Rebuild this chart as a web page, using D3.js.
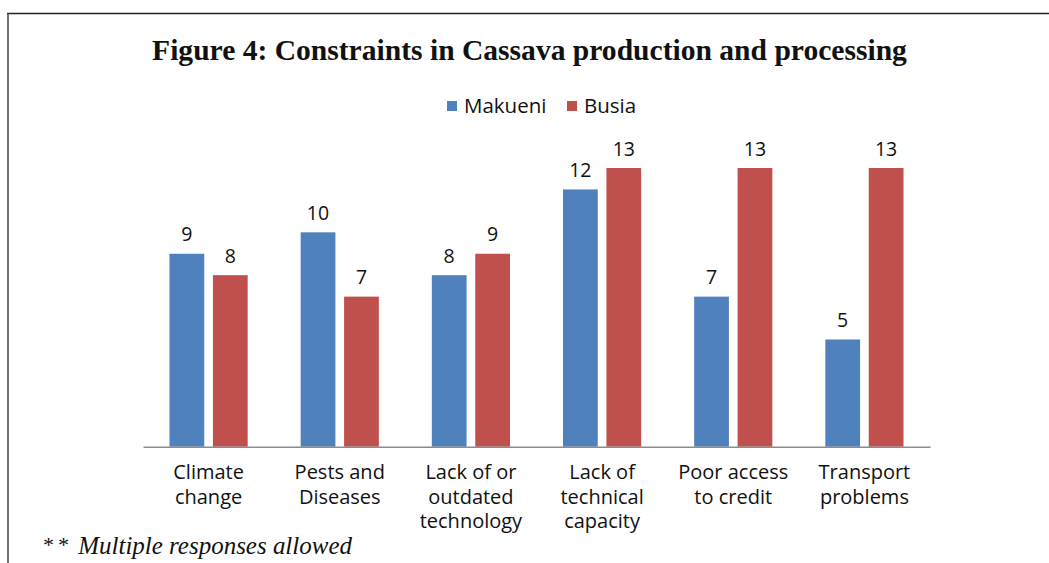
<!DOCTYPE html>
<html>
<head>
<meta charset="utf-8">
<script src="https://cdn.jsdelivr.net/npm/d3@7"></script>
<style>
  html, body { margin: 0; padding: 0; background: #fff; }
  svg { display: block; }
</style>
</head>
<body>
<svg id="chart" width="1049" height="563"></svg>
<script>
const categories = [
  ["Climate", "change"],
  ["Pests and", "Diseases"],
  ["Lack of or", "outdated", "technology"],
  ["Lack of", "technical", "capacity"],
  ["Poor access", "to credit"],
  ["Transport", "problems"]
];
const seriesNames = ["Makueni", "Busia"];
const makueni = [9, 10, 8, 12, 7, 5];
const busia = [8, 7, 9, 13, 13, 13];
const seriesColors = ["#4F81BD", "#C0504D"];
const titleText = "Figure 4: Constraints in Cassava production and processing";
const footnoteStars = "**";
const footnoteText = " Multiple responses allowed";

const svg = d3.select("#chart");
const W = 1049, H = 563;

// frame (top and left rules)
svg.append("line").attr("x1", 7).attr("x2", W).attr("y1", 13.5).attr("y2", 13.5)
  .attr("stroke", "#222").attr("stroke-width", 1.5);
svg.append("line").attr("x1", 8).attr("x2", 8).attr("y1", 13).attr("y2", H)
  .attr("stroke", "#444").attr("stroke-width", 1.5);

// title
const title = svg.append("text")
  .attr("x", 529.5).attr("y", 60)
  .attr("text-anchor", "middle")
  .attr("font-family", "'Liberation Serif', 'DejaVu Serif', serif")
  .attr("font-weight", "bold")
  .attr("font-size", 28)
  .attr("fill", "#111")
  .text(titleText);
{
  const w = title.node().getComputedTextLength();
  title.attr("font-size", 28 * 755 / w);
}

const x0 = d3.scaleBand().domain(d3.range(categories.length)).range([143, 930]);
const x1 = d3.scaleBand().domain(d3.range(seriesNames.length)).range([0, x0.bandwidth()])
  .paddingInner(0.2).paddingOuter(0.61);
const y = d3.scaleLinear().domain([0, 13]).range([446.7, 168]);

const data = categories.map((c, i) => ({ i, vals: [makueni[i], busia[i]] }));

const groups = svg.append("g").selectAll("g").data(data).join("g")
  .attr("transform", d => `translate(${x0(d.i)},0)`);

groups.selectAll("rect").data(d => d.vals.map((v, s) => ({ v, s }))).join("rect")
  .attr("x", d => x1(d.s))
  .attr("width", x1.bandwidth())
  .attr("y", d => y(d.v))
  .attr("height", d => y(0) - y(d.v))
  .attr("fill", d => seriesColors[d.s]);

groups.selectAll("text.val").data(d => d.vals.map((v, s) => ({ v, s }))).join("text")
  .attr("class", "val")
  .attr("x", d => x1(d.s) + x1.bandwidth() / 2)
  .attr("y", d => y(d.v) - 12.5)
  .attr("text-anchor", "middle")
  .attr("font-family", "'Open Sans', sans-serif")
  .attr("font-size", 19.5)
  .attr("fill", "#111")
  .text(d => d.v);

// x axis
const xAxis = d3.axisBottom(x0).tickSize(0).tickFormat("");
const axG = svg.append("g").attr("transform", `translate(0,${y(0)})`).call(xAxis);
axG.select(".domain").attr("stroke", "#8c8c8c").attr("stroke-width", 1.5);

// category labels
const catG = svg.append("g");
categories.forEach((lines, i) => {
  const t = catG.append("text")
    .attr("x", x0(i) + x0.bandwidth() / 2)
    .attr("text-anchor", "middle")
    .attr("font-family", "'Open Sans', sans-serif")
    .attr("font-size", 20)
    .attr("fill", "#111");
  lines.forEach((ln, k) => {
    t.append("tspan").attr("x", x0(i) + x0.bandwidth() / 2).attr("y", 479 + k * 24.5).text(ln);
  });
});

// legend
const legend = svg.append("g");
const legendX = [447, 567];
seriesNames.forEach((n, s) => {
  legend.append("rect").attr("x", legendX[s]).attr("y", 101).attr("width", 10).attr("height", 10)
    .attr("fill", seriesColors[s]);
  legend.append("text").attr("x", legendX[s] + 17).attr("y", 112.5)
    .attr("font-family", "'Open Sans', sans-serif").attr("font-size", 20.5).attr("fill", "#111")
    .text(n);
});

// footnote
const foot = svg.append("text")
  .attr("x", 42).attr("y", 554)
  .attr("font-family", "'Liberation Serif', 'DejaVu Serif', serif")
  .attr("font-style", "italic")
  .attr("font-size", 25)
  .attr("fill", "#111");
foot.append("tspan").attr("letter-spacing", 4).attr("font-size", 22).attr("dy", -2).text(footnoteStars);
foot.append("tspan").attr("dy", 2).text(footnoteText);
{
  const w = foot.node().getComputedTextLength();
  foot.attr("font-size", 25 * 310 / w);
}
</script>
</body>
</html>
